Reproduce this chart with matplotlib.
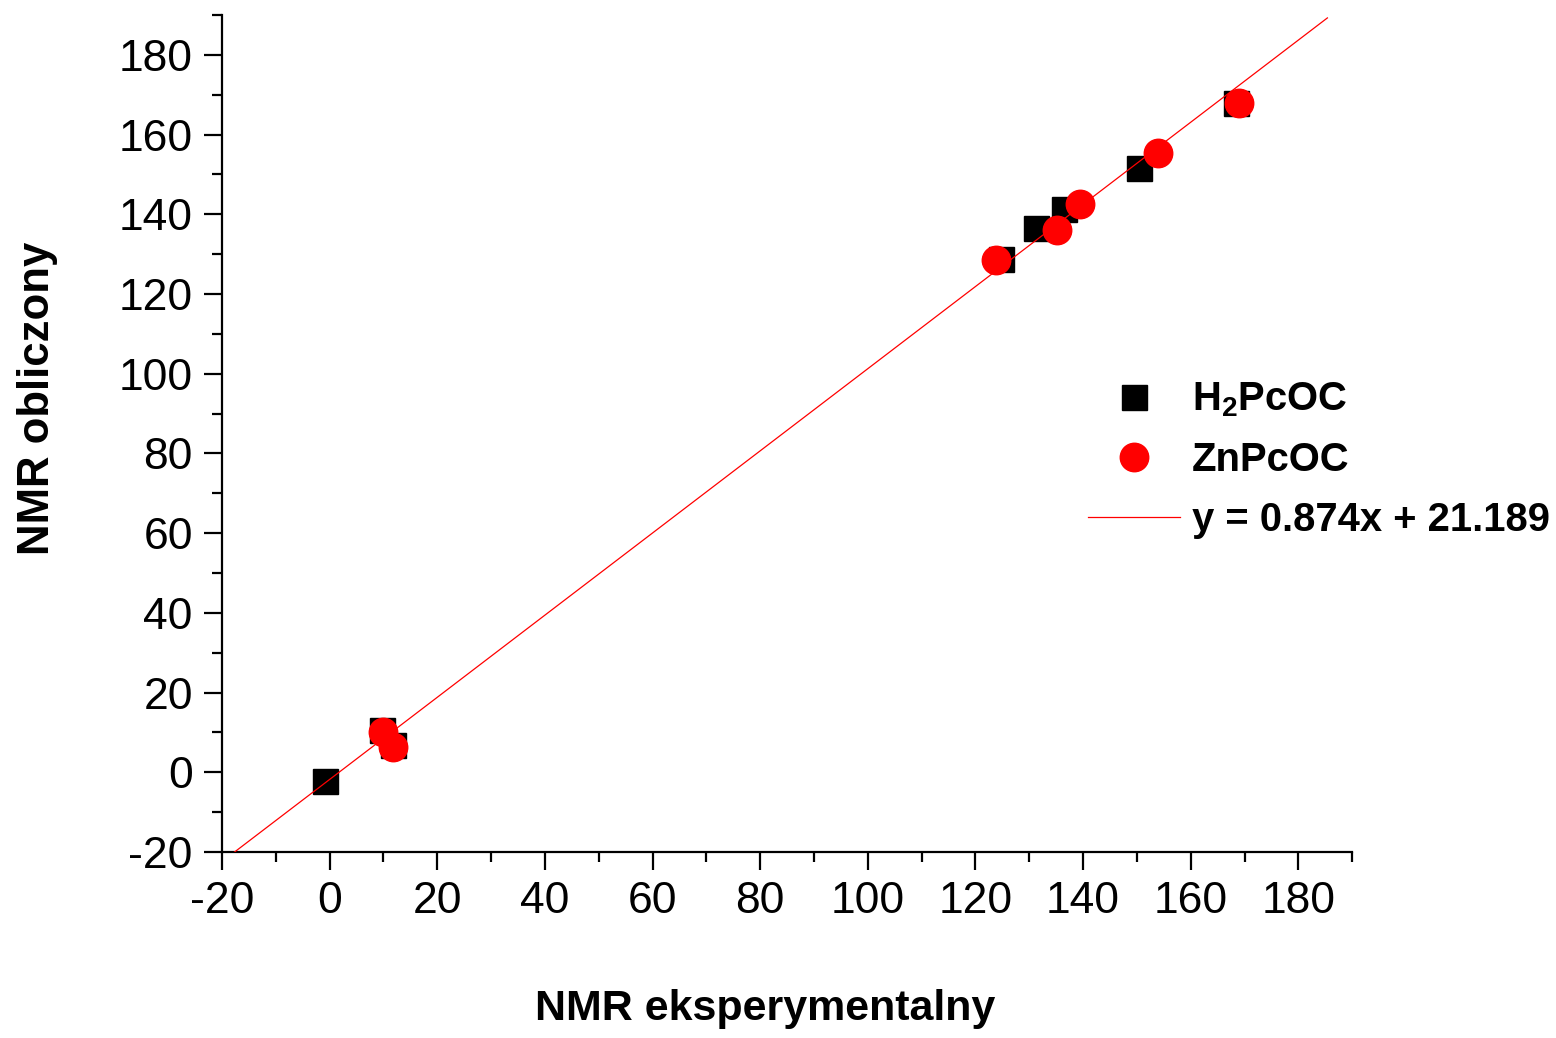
import matplotlib
matplotlib.use("Agg")
import matplotlib.pyplot as plt
import numpy as np
from matplotlib.ticker import MultipleLocator

# Data
h2_x = [-0.8, 9.7, 11.8, 124.8, 131.3, 136.4, 150.4, 168.5]
h2_y = [-2.1, 10.6, 6.9, 128.9, 136.5, 141.3, 151.6, 168.0]
zn_x = [9.9, 11.7, 123.9, 135.1, 139.4, 153.9, 168.9]
zn_y = [10.2, 6.4, 128.6, 136.1, 142.6, 155.5, 167.9]
fit_slope = 1.0306
fit_intercept = -1.79
fit_x_range = [-17.7, 185.4]
labels = ["H$_2$PcOC", "ZnPcOC", "y = 0.874x + 21.189"]

plt.rcParams['font.family'] = ['Liberation Sans', 'DejaVu Sans']
plt.rcParams['mathtext.fontset'] = 'custom'
plt.rcParams['mathtext.rm'] = 'Liberation Sans:bold'
plt.rcParams['mathtext.default'] = 'rm'
plt.rcParams['axes.unicode_minus'] = False

fig = plt.figure(figsize=(15.56, 10.38), dpi=100)
ax = fig.add_axes([0.1427, 0.1792, 0.869 - 0.1427, 0.9855 - 0.1792])

fx = np.array(fit_x_range)
fy = fit_slope * fx + fit_intercept

ax.plot(h2_x, h2_y, linestyle='none', marker='s', markersize=18, color='black', label=labels[0], zorder=3)
ax.plot(zn_x, zn_y, linestyle='none', marker='o', markersize=20.5, color='#ff0000', label=labels[1], zorder=4)
ax.plot(fx, fy, color='#ff0000', linewidth=0.9, label=labels[2], zorder=5)

ax.set_xlim(-20, 190)
ax.set_ylim(-20, 190)
ax.xaxis.set_major_locator(MultipleLocator(20))
ax.xaxis.set_minor_locator(MultipleLocator(10))
ax.yaxis.set_major_locator(MultipleLocator(20))
ax.yaxis.set_minor_locator(MultipleLocator(10))

for s in ['top', 'right']:
    ax.spines[s].set_visible(False)
for s in ['left', 'bottom']:
    ax.spines[s].set_linewidth(1.6)

ax.tick_params(which='major', direction='out', length=13, width=1.6, labelsize=32, pad=8)
ax.tick_params(which='minor', direction='out', length=7, width=1.6)

ax.set_xlabel('NMR eksperymentalny', fontsize=31, fontweight='bold')
ax.set_ylabel('NMR obliczony', fontsize=31.5, fontweight='bold')
ax.xaxis.label.set_verticalalignment('center')
ax.yaxis.label.set_verticalalignment('center')
ax.xaxis.set_label_coords(0.4805, -0.188)
ax.yaxis.set_label_coords(-0.163, 0.542)

leg = ax.legend(loc='upper left', bbox_to_anchor=(0.676, 0.668), bbox_transform=fig.transFigure,
                frameon=False, prop={'size': 28.8, 'weight': 'bold'}, handlelength=2.3,
                handletextpad=0.3, labelspacing=0.55, markerscale=1.0, numpoints=1)

fig.savefig('out.png', dpi=100, facecolor='white')
